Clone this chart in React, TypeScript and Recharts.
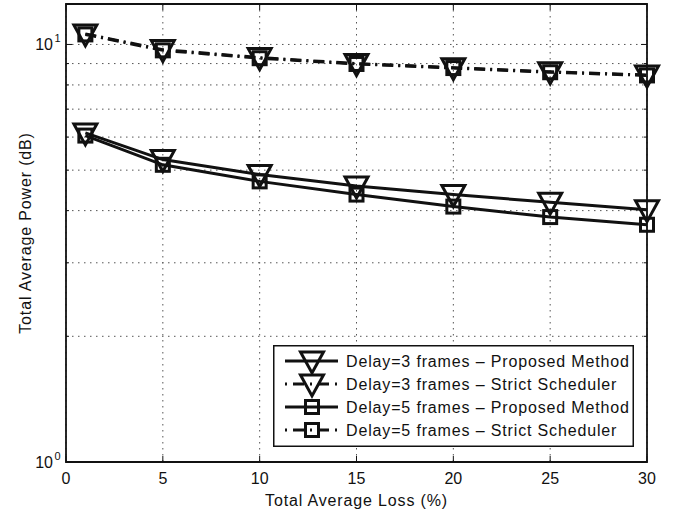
import React from "react";
import { LineChart, Line, XAxis, YAxis, CartesianGrid, Legend, ReferenceArea } from "recharts";

// loss (%) on the x axis
const lossPct = [1, 5, 10, 15, 20, 25, 30];

// total average power per scheme
const delay3Proposed = [6.14, 5.3, 4.88, 4.58, 4.37, 4.19, 4.02];
const delay3Strict = [10.6, 9.72, 9.3, 9.0, 8.8, 8.6, 8.45];
const delay5Proposed = [6.05, 5.15, 4.7, 4.37, 4.09, 3.86, 3.7];
const delay5Strict = [10.57, 9.68, 9.27, 8.98, 8.78, 8.58, 8.43];

const xTicks = [0, 5, 10, 15, 20, 25, 30];
const yTicks = [1, 2, 3, 4, 5, 6, 7, 8, 9, 10];
const seriesNames = [
  "Delay=3 frames \u2013 Proposed Method",
  "Delay=3 frames \u2013 Strict Scheduler",
  "Delay=5 frames \u2013 Proposed Method",
  "Delay=5 frames \u2013 Strict Scheduler",
];

const data = lossPct.map((loss, i) => ({
  loss,
  d3p: delay3Proposed[i],
  d3s: delay3Strict[i],
  d5p: delay5Proposed[i],
  d5s: delay5Strict[i],
}));

const FONT = "'Liberation Sans', Arial, Helvetica, sans-serif";
const INK = "#111";
const SPACING = 0.85;
const PLOT = { left: 66, right: 647, top: 4, bottom: 462 };
const DASH_DOT = "11 5 2 5";

const tri = (cx: number, cy: number) =>
  `${cx - 11.5},${cy - 9} ${cx + 11.5},${cy - 9} ${cx},${cy + 12}`;

const TriangleDot = (props: any) => {
  const { cx, cy, index } = props;
  if (cx == null || cy == null) return <g key={`t-${index}`} />;
  return (
    <polygon key={`t-${index}`} points={tri(cx, cy)} fill="none" stroke={INK} strokeWidth={3} />
  );
};

const SquareDot = (props: any) => {
  const { cx, cy, index } = props;
  if (cx == null || cy == null) return <g key={`s-${index}`} />;
  return (
    <rect key={`s-${index}`} x={cx - 6.5} y={cy - 6.5} width={13} height={13} fill="none" stroke={INK} strokeWidth={3} />
  );
};

function XTick({ x, payload }: any) {
  return (
    <g>
      <line x1={x} x2={x} y1={PLOT.bottom} y2={PLOT.bottom - 6} stroke={INK} strokeWidth={1} />
      <line x1={x} x2={x} y1={PLOT.top} y2={PLOT.top + 6} stroke={INK} strokeWidth={1} />
      <text x={x} y={PLOT.bottom + 22} textAnchor="middle" fontSize={16} fontFamily={FONT} fill={INK}>
        {payload.value}
      </text>
    </g>
  );
}

function YTick({ y, payload }: any) {
  const v = payload.value;
  const major = v === 1 || v === 10;
  const len = major ? 6 : 3;
  return (
    <g>
      <line x1={PLOT.left} x2={PLOT.left + len} y1={y} y2={y} stroke={INK} strokeWidth={1} />
      <line x1={PLOT.right} x2={PLOT.right - len} y1={y} y2={y} stroke={INK} strokeWidth={1} />
      {major && (
        <>
          <text x={53} y={y + 6} textAnchor="end" fontSize={16} fontFamily={FONT} fill={INK}>
            10
          </text>
          <text x={54.5} y={y - 2} fontSize={11} fontFamily={FONT} fill={INK}>
            {v === 1 ? "0" : "1"}
          </text>
        </>
      )}
    </g>
  );
}

const legendRows = [
  { name: seriesNames[0], dash: undefined, marker: "tri" },
  { name: seriesNames[1], dash: "2 6 11 6", marker: "tri" },
  { name: seriesNames[2], dash: undefined, marker: "sq" },
  { name: seriesNames[3], dash: "2 6 11 6", marker: "sq" },
];

function LegendBox() {
  return (
    <svg width={361} height={102} style={{ display: "block" }}>
      <rect x={0.75} y={0.75} width={359.5} height={100.5} fill="#fff" stroke={INK} strokeWidth={1.5} />
      {legendRows.map((r, i) => {
        const cy = 16 + i * 23;
        return (
          <g key={r.name}>
            <line x1={12} x2={65} y1={cy} y2={cy} stroke={INK} strokeWidth={3} strokeDasharray={r.dash} />
            {r.marker === "tri" ? (
              <polygon points={tri(39, cy)} fill="none" stroke={INK} strokeWidth={3} />
            ) : (
              <rect x={32.5} y={cy - 6.5} width={13} height={13} fill="none" stroke={INK} strokeWidth={3} />
            )}
            <text x={73} y={cy + 6} fontSize={16} letterSpacing={SPACING} fontFamily={FONT} fill={INK}>
              {r.name}
            </text>
          </g>
        );
      })}
    </svg>
  );
}

export default function App() {
  return (
    <div style={{ position: "absolute", left: 0, top: 0, background: "#fff" }}>
      <LineChart
        width={685}
        height={517}
        data={data}
        margin={{ top: PLOT.top, right: 685 - PLOT.right, left: 0, bottom: 0 }}
      >
        <CartesianGrid stroke="#555" strokeWidth={1} strokeDasharray="1.5 4.5" />
        <XAxis
          dataKey="loss"
          type="number"
          domain={[0, 30]}
          ticks={xTicks}
          interval={0}
          height={55}
          tickLine={false}
          axisLine={false}
          tick={<XTick />}
          label={{
            content: () => (
              <text
                x={(PLOT.left + PLOT.right) / 2}
                y={506}
                textAnchor="middle"
                fontSize={16}
                letterSpacing={SPACING}
                fontFamily={FONT}
                fill={INK}
              >
                Total Average Loss (%)
              </text>
            ),
          }}
        />
        <YAxis
          type="number"
          scale="log"
          domain={[1, 12.5]}
          allowDataOverflow
          ticks={yTicks}
          interval={0}
          width={PLOT.left}
          tickLine={false}
          axisLine={false}
          tick={<YTick />}
          label={{
            content: () => (
              <text
                transform={`translate(31, ${(PLOT.top + PLOT.bottom) / 2}) rotate(-90)`}
                textAnchor="middle"
                fontSize={16}
                letterSpacing={SPACING}
                fontFamily={FONT}
                fill={INK}
              >
                Total Average Power (dB)
              </text>
            ),
          }}
        />
        <ReferenceArea
          x1={0}
          x2={30}
          y1={1}
          y2={12.5}
          fill="none"
          stroke={INK}
          strokeWidth={1.8}
          ifOverflow="visible"
        />
        <Line type="linear" dataKey="d3p" name={seriesNames[0]} stroke={INK} strokeWidth={3} dot={TriangleDot} activeDot={false} isAnimationActive={false} />
        <Line type="linear" dataKey="d3s" name={seriesNames[1]} stroke={INK} strokeWidth={3} strokeDasharray={DASH_DOT} dot={TriangleDot} activeDot={false} isAnimationActive={false} />
        <Line type="linear" dataKey="d5p" name={seriesNames[2]} stroke={INK} strokeWidth={3} dot={SquareDot} activeDot={false} isAnimationActive={false} />
        <Line type="linear" dataKey="d5s" name={seriesNames[3]} stroke={INK} strokeWidth={3} strokeDasharray={DASH_DOT} dot={SquareDot} activeDot={false} isAnimationActive={false} />
        <Legend
          layout="vertical"
          align="center"
          verticalAlign="middle"
          wrapperStyle={{ position: "absolute", left: 273, top: 345, width: 361, height: 102 }}
          content={() => <LegendBox />}
        />
      </LineChart>
    </div>
  );
}
